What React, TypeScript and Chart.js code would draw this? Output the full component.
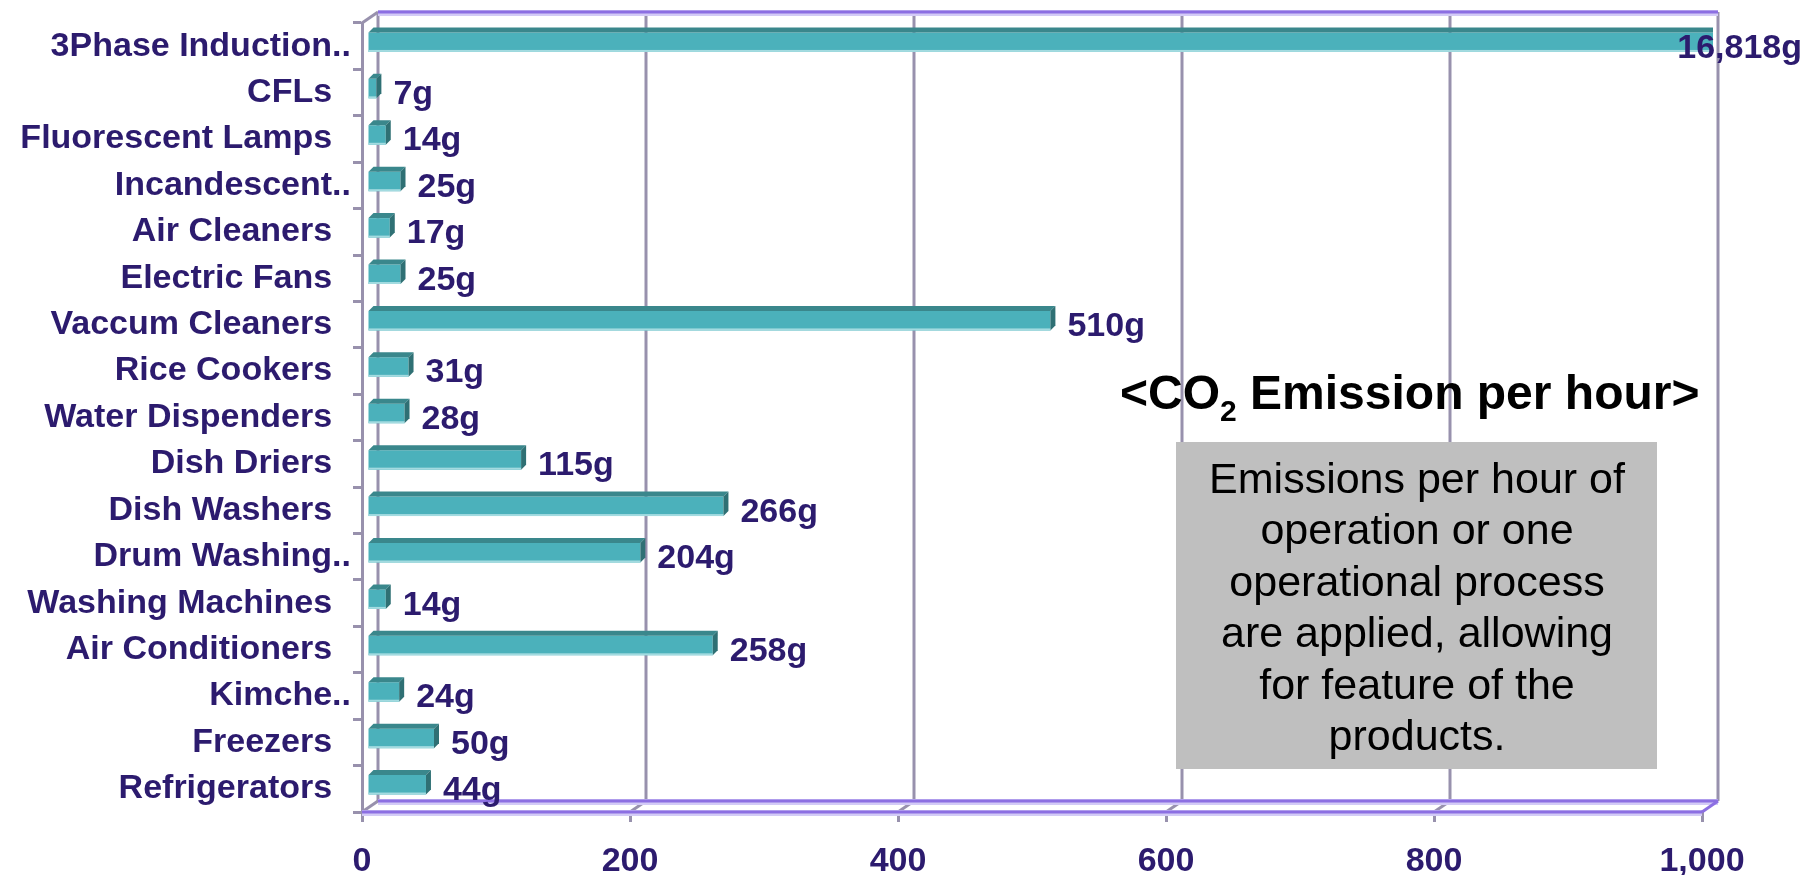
import React, { useEffect, useRef } from 'react';
import { Chart, registerables } from 'chart.js';

Chart.register(...registerables);

const categories = [
  '3Phase Induction..',
  'CFLs',
  'Fluorescent Lamps',
  'Incandescent..',
  'Air Cleaners',
  'Electric Fans',
  'Vaccum Cleaners',
  'Rice Cookers',
  'Water Dispenders',
  'Dish Driers',
  'Dish Washers',
  'Drum Washing..',
  'Washing Machines',
  'Air Conditioners',
  'Kimche..',
  'Freezers',
  'Refrigerators',
];
const emissions = [16818, 7, 14, 25, 17, 25, 510, 31, 28, 115, 266, 204, 14, 258, 24, 50, 44];
const xTicks = [0, 200, 400, 600, 800, 1000];
const titleParts = ['<CO', '2', ' Emission per hour>'];
const noteLines = [
  'Emissions per hour of',
  'operation or one',
  'operational process',
  'are applied, allowing',
  'for feature of the',
  'products.',
];

const NAVY = '#2c1b6e';
const GRID = '#9891ad';
const PURPLE = '#8c6fe2';
const LAVENDER = '#d3cbf6';
const FRONT = '#4bb1bb';
const TOP = '#3a878c';
const SIDE = '#2f7074';
const EDGE = '#a3dbe0';
const FONT = '"Liberation Sans", Arial, Helvetica, sans-serif';

const DX = 16; // back wall offset x
const DY = 11; // back wall offset y
const BX = 5; // bar plane offset
const BY = 4;
const D = 5; // bar depth
const CLIP_R = 6;

const frame3d = {
  id: 'frame3d',
  beforeDatasetsDraw(chart: any) {
    const { ctx, chartArea: a, scales } = chart;
    const x = scales.x;
    ctx.save();
    ctx.lineCap = 'butt';
    ctx.strokeStyle = GRID;
    ctx.lineWidth = 3;
    x.ticks.forEach((t: any, i: number) => {
      const px = x.getPixelForValue(t.value);
      ctx.beginPath();
      ctx.moveTo(px + DX, a.top - DY);
      ctx.lineTo(px + DX, a.bottom - DY);
      ctx.stroke();
      if (i < x.ticks.length - 1) {
        ctx.beginPath();
        ctx.moveTo(px + DX, a.bottom - DY);
        ctx.lineTo(px, a.bottom);
        ctx.stroke();
      }
    });
    ctx.beginPath();
    ctx.moveTo(a.left, a.top);
    ctx.lineTo(a.left + DX, a.top - DY);
    ctx.stroke();
    const purpleLine = (x1: number, y1: number, x2: number, y2: number) => {
      ctx.strokeStyle = LAVENDER;
      ctx.lineWidth = 6;
      ctx.beginPath();
      ctx.moveTo(x1, y1 + 1);
      ctx.lineTo(x2, y2 + 1);
      ctx.stroke();
      ctx.strokeStyle = PURPLE;
      ctx.lineWidth = 3;
      ctx.beginPath();
      ctx.moveTo(x1, y1);
      ctx.lineTo(x2, y2);
      ctx.stroke();
    };
    purpleLine(a.left + DX, a.top - DY, a.right + DX, a.top - DY);
    purpleLine(a.left + DX, a.bottom - DY, a.right + DX, a.bottom - DY);
    purpleLine(a.left, a.bottom, a.right, a.bottom);
    ctx.strokeStyle = PURPLE;
    ctx.lineWidth = 3;
    ctx.beginPath();
    ctx.moveTo(a.right + DX, a.bottom - DY);
    ctx.lineTo(a.right, a.bottom);
    ctx.stroke();
    ctx.restore();
    ctx.save();
    ctx.translate(BX, -BY);
  },
  afterDatasetsDraw(chart: any) {
    const { ctx, chartArea: a } = chart;
    const meta = chart.getDatasetMeta(0);
    meta.data.forEach((el: any) => {
      const p = el.getProps(['x', 'y', 'base', 'height'], true);
      const x0 = p.base;
      const clipped = p.x > a.right + CLIP_R;
      const x1 = clipped ? a.right + CLIP_R : p.x;
      const yT = p.y - p.height / 2;
      const yB = p.y + p.height / 2;
      ctx.fillStyle = TOP;
      ctx.beginPath();
      ctx.moveTo(x0, yT);
      ctx.lineTo(x1, yT);
      ctx.lineTo(x1 + (clipped ? 0 : D), yT - D);
      ctx.lineTo(x0 + D, yT - D);
      ctx.closePath();
      ctx.fill();
      if (!clipped) {
        ctx.fillStyle = SIDE;
        ctx.beginPath();
        ctx.moveTo(x1, yT);
        ctx.lineTo(x1 + D, yT - D);
        ctx.lineTo(x1 + D, yB - D);
        ctx.lineTo(x1, yB);
        ctx.closePath();
        ctx.fill();
      }
      ctx.fillStyle = EDGE;
      ctx.fillRect(x0, yB - 2, x1 - x0, 2);
    });
    ctx.restore();
    ctx.save();
    ctx.font = `bold 34px ${FONT}`;
    ctx.fillStyle = NAVY;
    ctx.textBaseline = 'middle';
    ctx.textAlign = 'left';
    meta.data.forEach((el: any, i: number) => {
      const p = el.getProps(['x', 'y'], true);
      const clipped = p.x > a.right + CLIP_R;
      const end = (clipped ? a.right + CLIP_R : p.x) + BX + (clipped ? 0 : D) + 12;
      const txt = emissions[i].toLocaleString('en-US') + 'g';
      const w = ctx.measureText(txt).width;
      const tx = Math.min(end, chart.width - w - 12);
      ctx.fillText(txt, tx, p.y + 2);
    });
    ctx.restore();
  },
  afterDraw(chart: any) {
    const { ctx } = chart;
    ctx.save();
    ctx.fillStyle = '#000000';
    ctx.textBaseline = 'alphabetic';
    ctx.textAlign = 'left';
    let tx = 1120;
    ctx.font = `bold 48px ${FONT}`;
    ctx.fillText(titleParts[0], tx, 409);
    tx += ctx.measureText(titleParts[0]).width;
    ctx.font = `bold 30px ${FONT}`;
    ctx.fillText(titleParts[1], tx, 421);
    tx += ctx.measureText(titleParts[1]).width;
    ctx.font = `bold 48px ${FONT}`;
    ctx.fillText(titleParts[2], tx, 409);
    ctx.fillStyle = '#bfbfbf';
    ctx.fillRect(1176, 442, 481, 327);
    ctx.fillStyle = '#000000';
    ctx.font = `43px ${FONT}`;
    ctx.textAlign = 'center';
    noteLines.forEach((line, i) => {
      ctx.fillText(line, 1417, 493 + i * 51.4);
    });
    ctx.restore();
  },
};

export default function App() {
  const canvasRef = useRef<HTMLCanvasElement | null>(null);

  useEffect(() => {
    const canvas = canvasRef.current;
    if (!canvas) return;
    const chart = new Chart(canvas, {
      type: 'bar',
      data: {
        labels: categories,
        datasets: [
          {
            data: emissions,
            backgroundColor: FRONT,
            borderWidth: 0,
            barPercentage: 0.42,
            categoryPercentage: 1,
            clip: { left: 8, top: 8, right: CLIP_R, bottom: 8 },
          } as any,
        ],
      },
      options: {
        indexAxis: 'y',
        responsive: false,
        maintainAspectRatio: false,
        animation: false,
        devicePixelRatio: 1,
        events: [],
        layout: { padding: { top: 23, right: 112, left: 0, bottom: 0 } },
        plugins: { legend: { display: false }, tooltip: { enabled: false } },
        scales: {
          x: {
            type: 'linear',
            min: xTicks[0],
            max: xTicks[xTicks.length - 1],
            afterBuildTicks: (s: any) => {
              s.ticks = xTicks.map((v) => ({ value: v }));
            },
            afterFit: (s: any) => {
              s.height = 63;
            },
            ticks: {
              font: { family: FONT, size: 34, weight: 'bold' },
              color: NAVY,
              padding: 19,
              maxRotation: 0,
              autoSkip: false,
              callback: (v: any) => Number(v).toLocaleString('en-US'),
            },
            grid: {
              drawOnChartArea: false,
              drawTicks: true,
              tickLength: 10,
              color: GRID,
              lineWidth: 3,
            },
            border: { display: false },
          },
          y: {
            afterFit: (s: any) => {
              s.width = 362;
            },
            ticks: {
              font: { family: FONT, size: 34, weight: 'bold' },
              color: NAVY,
              padding: 2,
              autoSkip: false,
              callback: (_v: any, i: number) => {
                const l = categories[i];
                return l.endsWith('..') ? l : l + '  ';
              },
            },
            grid: {
              drawOnChartArea: false,
              drawTicks: true,
              tickLength: 9,
              offset: true,
              color: GRID,
              lineWidth: 3,
            },
            border: { display: true, color: GRID, width: 3 },
          },
        },
      } as any,
      plugins: [frame3d],
    });
    return () => chart.destroy();
  }, []);

  return (
    <div style={{ position: 'absolute', left: 0, top: 0, width: 1814, height: 875, background: '#ffffff' }}>
      <canvas ref={canvasRef} width={1814} height={875} style={{ display: 'block' }} />
    </div>
  );
}
